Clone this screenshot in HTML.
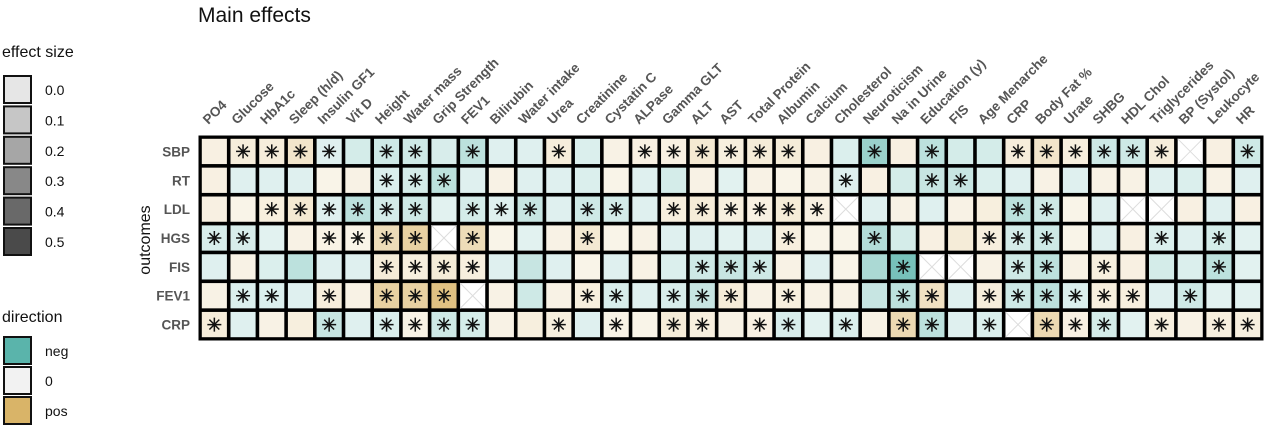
<!DOCTYPE html>
<html><head><meta charset="utf-8"><style>
body{margin:0;background:#fff;width:1280px;height:435px;overflow:hidden}
svg{display:block;font-family:"Liberation Sans",sans-serif}
</style></head><body>
<svg id="chart" width="1280" height="435">
<text x="198" y="22" font-size="21" fill="#111">Main effects</text>
<text x="150" y="240" font-size="16" fill="#111" transform="rotate(-90 150 240)" text-anchor="middle">outcomes</text>
<g id="legend"></g>
<g id="cells"></g>
<g id="labels"></g>
</svg>
<script>
const columns=["PO4","Glucose","HbA1c","Sleep (h/d)","Insulin GF1","Vit D","Height","Water mass","Grip Strength","FEV1","Bilirubin","Water intake","Urea","Creatinine","Cystatin C","ALPase","Gamma GLT","ALT","AST","Total Protein","Albumin","Calcium","Cholesterol","Neuroticism","Na in Urine","Education (y)","FIS","Age Menarche","CRP","Body Fat %","Urate","SHBG","HDL Chol","Triglycerides","BP (Systol)","Leukocyte","HR"];
const rows=["SBP","RT","LDL","HGS","FIS","FEV1","CRP"];
// effect values (null = NA); negative = teal, positive = tan
const effects=[
[.05,.07,.07,.12,-.05,-.08,-.1,-.1,-.07,-.15,-.05,-.05,.07,-.06,.04,.05,.05,.1,.06,.08,.08,.05,-.06,-.25,.05,-.15,-.08,-.08,.07,.12,.06,-.1,-.1,.07,null,.05,-.1],
[.05,-.05,-.05,-.05,.03,.04,-.06,-.08,-.15,-.05,.04,-.05,-.05,-.06,.03,-.05,-.08,.04,-.04,.04,.03,.04,-.05,.05,-.08,-.12,-.12,-.06,-.05,.04,-.05,.04,.04,-.05,-.06,.04,-.05],
[.05,.03,.06,.1,-.05,-.15,-.08,-.1,-.04,-.08,-.05,-.12,-.05,-.1,-.08,-.05,.06,.08,.06,.05,.08,.05,null,-.05,.04,-.05,.04,.06,-.15,-.1,.03,-.05,null,null,.05,-.05,.05],
[-.07,-.07,-.04,.04,.04,.03,.18,.25,null,.18,.03,-.04,.04,.1,.03,.04,-.05,-.05,-.04,-.05,.06,.03,.03,-.18,-.08,.05,.08,.06,-.08,-.1,.03,-.05,.05,-.06,-.05,-.08,-.04],
[-.05,.04,-.06,-.15,-.05,-.05,.08,.06,.08,.06,-.05,-.12,-.05,.03,-.05,.04,-.06,-.1,-.12,-.1,.04,-.05,.03,-.2,-.35,null,null,.04,-.1,-.15,.04,.06,.05,-.08,-.06,-.15,-.04],
[.04,-.06,-.06,-.05,.07,.04,.25,.25,.35,null,.04,-.1,.04,.06,-.07,-.05,-.07,-.12,.08,.04,.06,.04,.04,-.12,-.15,.15,-.05,.07,-.1,-.15,-.06,.06,.06,-.05,-.1,-.04,-.04],
[.07,-.05,.04,.06,-.12,-.05,-.06,.04,-.1,-.08,.04,.06,.06,-.05,.04,.03,.08,.06,.04,.05,-.07,-.04,-.06,.04,.2,-.15,-.05,-.06,null,.2,.05,-.08,-.04,.06,.04,.06,.06]];
// significance (1 = star)
const signif=[
[0,1,1,1,1,0,1,1,0,1,0,0,1,0,0,1,1,1,1,1,1,0,0,1,0,1,0,0,1,1,1,1,1,1,0,0,1],
[0,0,0,0,0,0,1,1,1,0,0,0,0,0,0,0,0,0,0,0,0,0,1,0,0,1,1,0,0,0,0,0,0,0,0,0,0],
[0,0,1,1,1,1,1,1,0,1,1,1,0,1,1,0,1,1,1,1,1,1,0,0,0,0,0,0,1,1,0,0,0,0,0,0,0],
[1,1,0,0,1,1,1,1,0,1,0,0,0,1,0,0,0,0,0,0,1,0,0,1,0,0,0,1,1,1,0,0,0,1,0,1,0],
[0,0,0,0,0,0,1,1,1,1,0,0,0,0,0,0,0,1,1,1,0,0,0,0,1,0,0,0,1,1,0,1,0,0,0,1,0],
[0,1,1,0,1,0,1,1,1,0,0,0,0,1,1,0,1,1,1,0,1,0,0,0,1,1,0,1,1,1,1,1,1,0,1,0,0],
[1,0,0,0,1,0,1,1,1,1,0,0,1,0,1,0,1,1,0,1,1,0,1,0,1,1,0,1,0,1,1,1,0,1,0,1,1]];
const sizeTicks=["0.0","0.1","0.2","0.3","0.4","0.5"];
const sizeGrays=["#e6e6e6","#c6c6c6","#a6a6a6","#888","#696969","#4a4a4a"];
const dirLabels=["neg","0","pos"];
const dirColors=["#5ab4ab","#f2f2f2","#d9b468"];

const NS="http://www.w3.org/2000/svg";
function mk(tag,attrs,parent){const e=document.createElementNS(NS,tag);for(const k in attrs)e.setAttribute(k,attrs[k]);parent.appendChild(e);return e;}
const X0=200,Y0=137,CW=(1262-200)/columns.length,RH=(339-137)/rows.length;
const xPos=i=>X0+i*CW, yPos=j=>Y0+j*RH;
function mix(c,t){const r=parseInt(c.slice(1,3),16),g=parseInt(c.slice(3,5),16),b=parseInt(c.slice(5,7),16);
 const f=v=>Math.round(255+(v-255)*t);return `rgb(${f(r)},${f(g)},${f(b)})`;}
function color(v){const t=Math.min(1,0.09+Math.abs(v)*2.1);return v<0?mix("#5ab4ab",t):mix("#d9b468",t);}
const cells=document.getElementById('cells');
mk('rect',{x:X0-1.5,y:Y0-1.5,width:CW*columns.length+3,height:RH*rows.length+3,fill:'#000'},cells);
rows.forEach((r,j)=>{
 const lt=mk('text',{x:190,y:yPos(j)+RH/2+5,'text-anchor':'end','font-size':13.5,'font-weight':'bold',fill:'#555'},document.getElementById('labels'));
 lt.textContent=r;
 
 
 columns.forEach((c,i)=>{
  const v=effects[j][i];const x=xPos(i)+1.8,y=yPos(j)+1.8,w=CW-3.6,h=RH-3.6;
  const g=mk('g',{},cells);
  
  
  mk('rect',{x:x,y:y,width:w,height:h,fill:v===null?'#fff':color(v)},g);
  if(v===null){mk('path',{d:`M${x} ${y}L${x+w} ${y+h}M${x+w} ${y}L${x} ${y+h}`,stroke:'#ddd','stroke-width':1},g);}
  if(signif[j][i]&&v!==null){const cx=x+w/2,cy=y+h/2,L=7;let d='';
   for(let a=0;a<4;a++){const an=a*Math.PI/4;d+=`M${cx-L*Math.cos(an)} ${cy-L*Math.sin(an)}L${cx+L*Math.cos(an)} ${cy+L*Math.sin(an)}`;}
   mk('path',{d:d,stroke:'#111','stroke-width':1.5},g);}
 });
});
columns.forEach((c,i)=>{
 const cx=xPos(i)+CW/2-6,cy=125;
 const t=mk('text',{x:cx,y:cy,'font-size':13.5,'font-weight':'bold',fill:'#555',transform:`rotate(-45 ${cx} ${cy})`},document.getElementById('labels'));
 t.textContent=c;
 
 
});
const lg=document.getElementById('legend');
let tt=mk('text',{x:2,y:57,'font-size':16,fill:'#111'},lg);tt.textContent='effect size';


sizeTicks.forEach((s,k)=>{const y=76+k*30.4;
 const r=mk('rect',{x:4,y:y,width:27,height:27,fill:sizeGrays[k],stroke:'#111','stroke-width':2},lg);
 
 
 const t=mk('text',{x:45,y:y+19,'font-size':14,fill:'#111'},lg);t.textContent=s;});
tt=mk('text',{x:2,y:322,'font-size':16,fill:'#111'},lg);tt.textContent='direction';


dirLabels.forEach((s,k)=>{const y=337+k*30;
 const r=mk('rect',{x:4,y:y,width:27,height:27,fill:dirColors[k],stroke:'#111','stroke-width':2},lg);
 
 
 const t=mk('text',{x:45,y:y+19,'font-size':14,fill:'#111'},lg);t.textContent=s;});
</script>
</body></html>
